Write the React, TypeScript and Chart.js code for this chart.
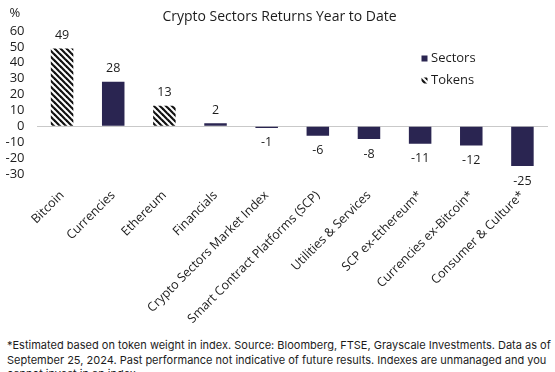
import React, { useEffect, useRef } from "react";
import { Chart, registerables } from "chart.js";

Chart.register(...registerables);

const categories = [
  "Bitcoin",
  "Currencies",
  "Ethereum",
  "Financials",
  "Crypto Sectors Market Index",
  "Smart Contract Platforms (SCP)",
  "Utilities & Services",
  "SCP ex-Ethereum*",
  "Currencies ex-Bitcoin*",
  "Consumer & Culture*",
];
const returns = [49, 28, 13, 2, -1, -6, -8, -11, -12, -25];
const isToken = [true, false, true, false, false, false, false, false, false, false];
const yTicks = [-30, -20, -10, 0, 10, 20, 30, 40, 50, 60];
const seriesNames = ["Sectors", "Tokens"];
const titleText = "Crypto Sectors Returns Year to Date";
const footnoteLines = [
  "*Estimated based on token weight in index. Source: Bloomberg, FTSE, Grayscale Investments. Data as of",
  "September 25, 2024. Past performance not indicative of future results. Indexes are unmanaged and you",
  "cannot invest in an index.",
];

const NAVY = "#2a2551";
const TEXT = "#1c1c1c";
const FONT = "'Open Sans', 'Noto Sans', sans-serif";
const NOTE_FONT = "Inter, 'Noto Sans', sans-serif";

function makeHatch(): CanvasPattern | string {
  const c = document.createElement("canvas");
  c.width = 6;
  c.height = 6;
  const g = c.getContext("2d");
  if (!g) return "#000";
  g.fillStyle = "#fff";
  g.fillRect(0, 0, 6, 6);
  g.strokeStyle = "#111";
  g.lineWidth = 2.2;
  for (const k of [-6, 0, 6]) {
    g.beginPath();
    g.moveTo(k - 1, -1);
    g.lineTo(k + 7, 7);
    g.stroke();
  }
  const p = g.createPattern(c, "repeat");
  return p || "#000";
}

export default function App() {
  const ref = useRef<HTMLCanvasElement | null>(null);

  useEffect(() => {
    document.body.style.margin = "0";
    const canvas = ref.current;
    if (!canvas) return;
    const hatch = makeHatch();

    const sectorData = returns.map((v, i) => (isToken[i] ? null : v));
    const tokenData = returns.map((v, i) => (isToken[i] ? v : null));

    const overlay = {
      id: "overlay",
      afterDatasetsDraw(chart: any) {
        const ctx = chart.ctx;
        const area = chart.chartArea;
        ctx.save();
        ctx.fillStyle = TEXT;
        ctx.font = `12.5px ${FONT}`;
        ctx.textAlign = "center";
        ctx.textBaseline = "middle";
        chart.data.datasets.forEach((ds: any, di: number) => {
          const meta = chart.getDatasetMeta(di);
          meta.data.forEach((bar: any, i: number) => {
            const v = ds.data[i];
            if (v === null || v === undefined) return;
            const y = v >= 0 ? bar.y - 13 : bar.y + 15;
            ctx.fillText(String(v), bar.x, y);
          });
        });
        // title
        ctx.font = `14px ${FONT}`;
        ctx.fillText(titleText, 279.5, 17.5);
        // % unit
        ctx.font = `13px ${FONT}`;
        ctx.textAlign = "left";
        ctx.fillText("%", 9.5, 13.5);
        // legend
        const lx = area.right - 126.5;
        ctx.fillStyle = NAVY;
        ctx.fillRect(lx, 55.5, 6, 6);
        ctx.fillStyle = hatch as any;
        ctx.fillRect(lx, 77.5, 6, 6);
        ctx.fillStyle = TEXT;
        ctx.font = `13px ${FONT}`;
        ctx.fillText(seriesNames[0], lx + 9.5, 58.5);
        ctx.fillText(seriesNames[1], lx + 9.5, 80.5);
        ctx.restore();
      },
    };

    const chart = new Chart(canvas, {
      type: "bar",
      data: {
        labels: categories,
        datasets: [
          {
            label: seriesNames[0],
            data: sectorData,
            backgroundColor: NAVY,
            grouped: false,
            barPercentage: 0.44,
            categoryPercentage: 1,
          } as any,
          {
            label: seriesNames[1],
            data: tokenData,
            backgroundColor: hatch as any,
            grouped: false,
            barPercentage: 0.44,
            categoryPercentage: 1,
          } as any,
        ],
      },
      options: {
        animation: false,
        responsive: false,
        maintainAspectRatio: false,
        layout: { padding: { top: 31, right: 7, left: 0, bottom: 0 } },
        plugins: {
          legend: { display: false },
          tooltip: { enabled: false },
          title: { display: false },
        },
        scales: {
          x: {
            grid: { display: false, drawTicks: false },
            border: { display: false },
            ticks: {
              color: TEXT,
              font: { family: FONT, size: 12.5 },
              minRotation: 45,
              maxRotation: 45,
              autoSkip: false,
              padding: 14,
            },
            afterFit(scale: any) {
              scale.height = 161;
            },
          },
          y: {
            min: yTicks[0],
            max: yTicks[yTicks.length - 1],
            afterBuildTicks(scale: any) {
              scale.ticks = yTicks.map((v) => ({ value: v }));
            },
            grid: {
              drawTicks: false,
              color: (c: any) => (c.tick && c.tick.value === 0 ? "#c9c9c9" : "rgba(0,0,0,0)"),
              lineWidth: 1,
            },
            border: { display: false },
            ticks: {
              color: TEXT,
              font: { family: FONT, size: 13 },
              padding: 12,
              autoSkip: false,
            },
            afterFit(scale: any) {
              scale.width = 36.5;
            },
          },
        },
      },
      plugins: [overlay],
    });
    return () => chart.destroy();
  }, []);

  return (
    <div style={{ position: "relative", width: 555, height: 372, overflow: "hidden", background: "#fff" }}>
      <canvas ref={ref} width={555} height={335} style={{ display: "block", width: 555, height: 335 }} />
      <div
        style={{
          position: "absolute",
          left: 7,
          top: 338,
          fontFamily: NOTE_FONT,
          fontSize: 11,
          lineHeight: "14.5px",
          color: TEXT,
          whiteSpace: "nowrap",
        }}
      >
        {footnoteLines.map((l, i) => (
          <div key={i}>{l}</div>
        ))}
      </div>
    </div>
  );
}
